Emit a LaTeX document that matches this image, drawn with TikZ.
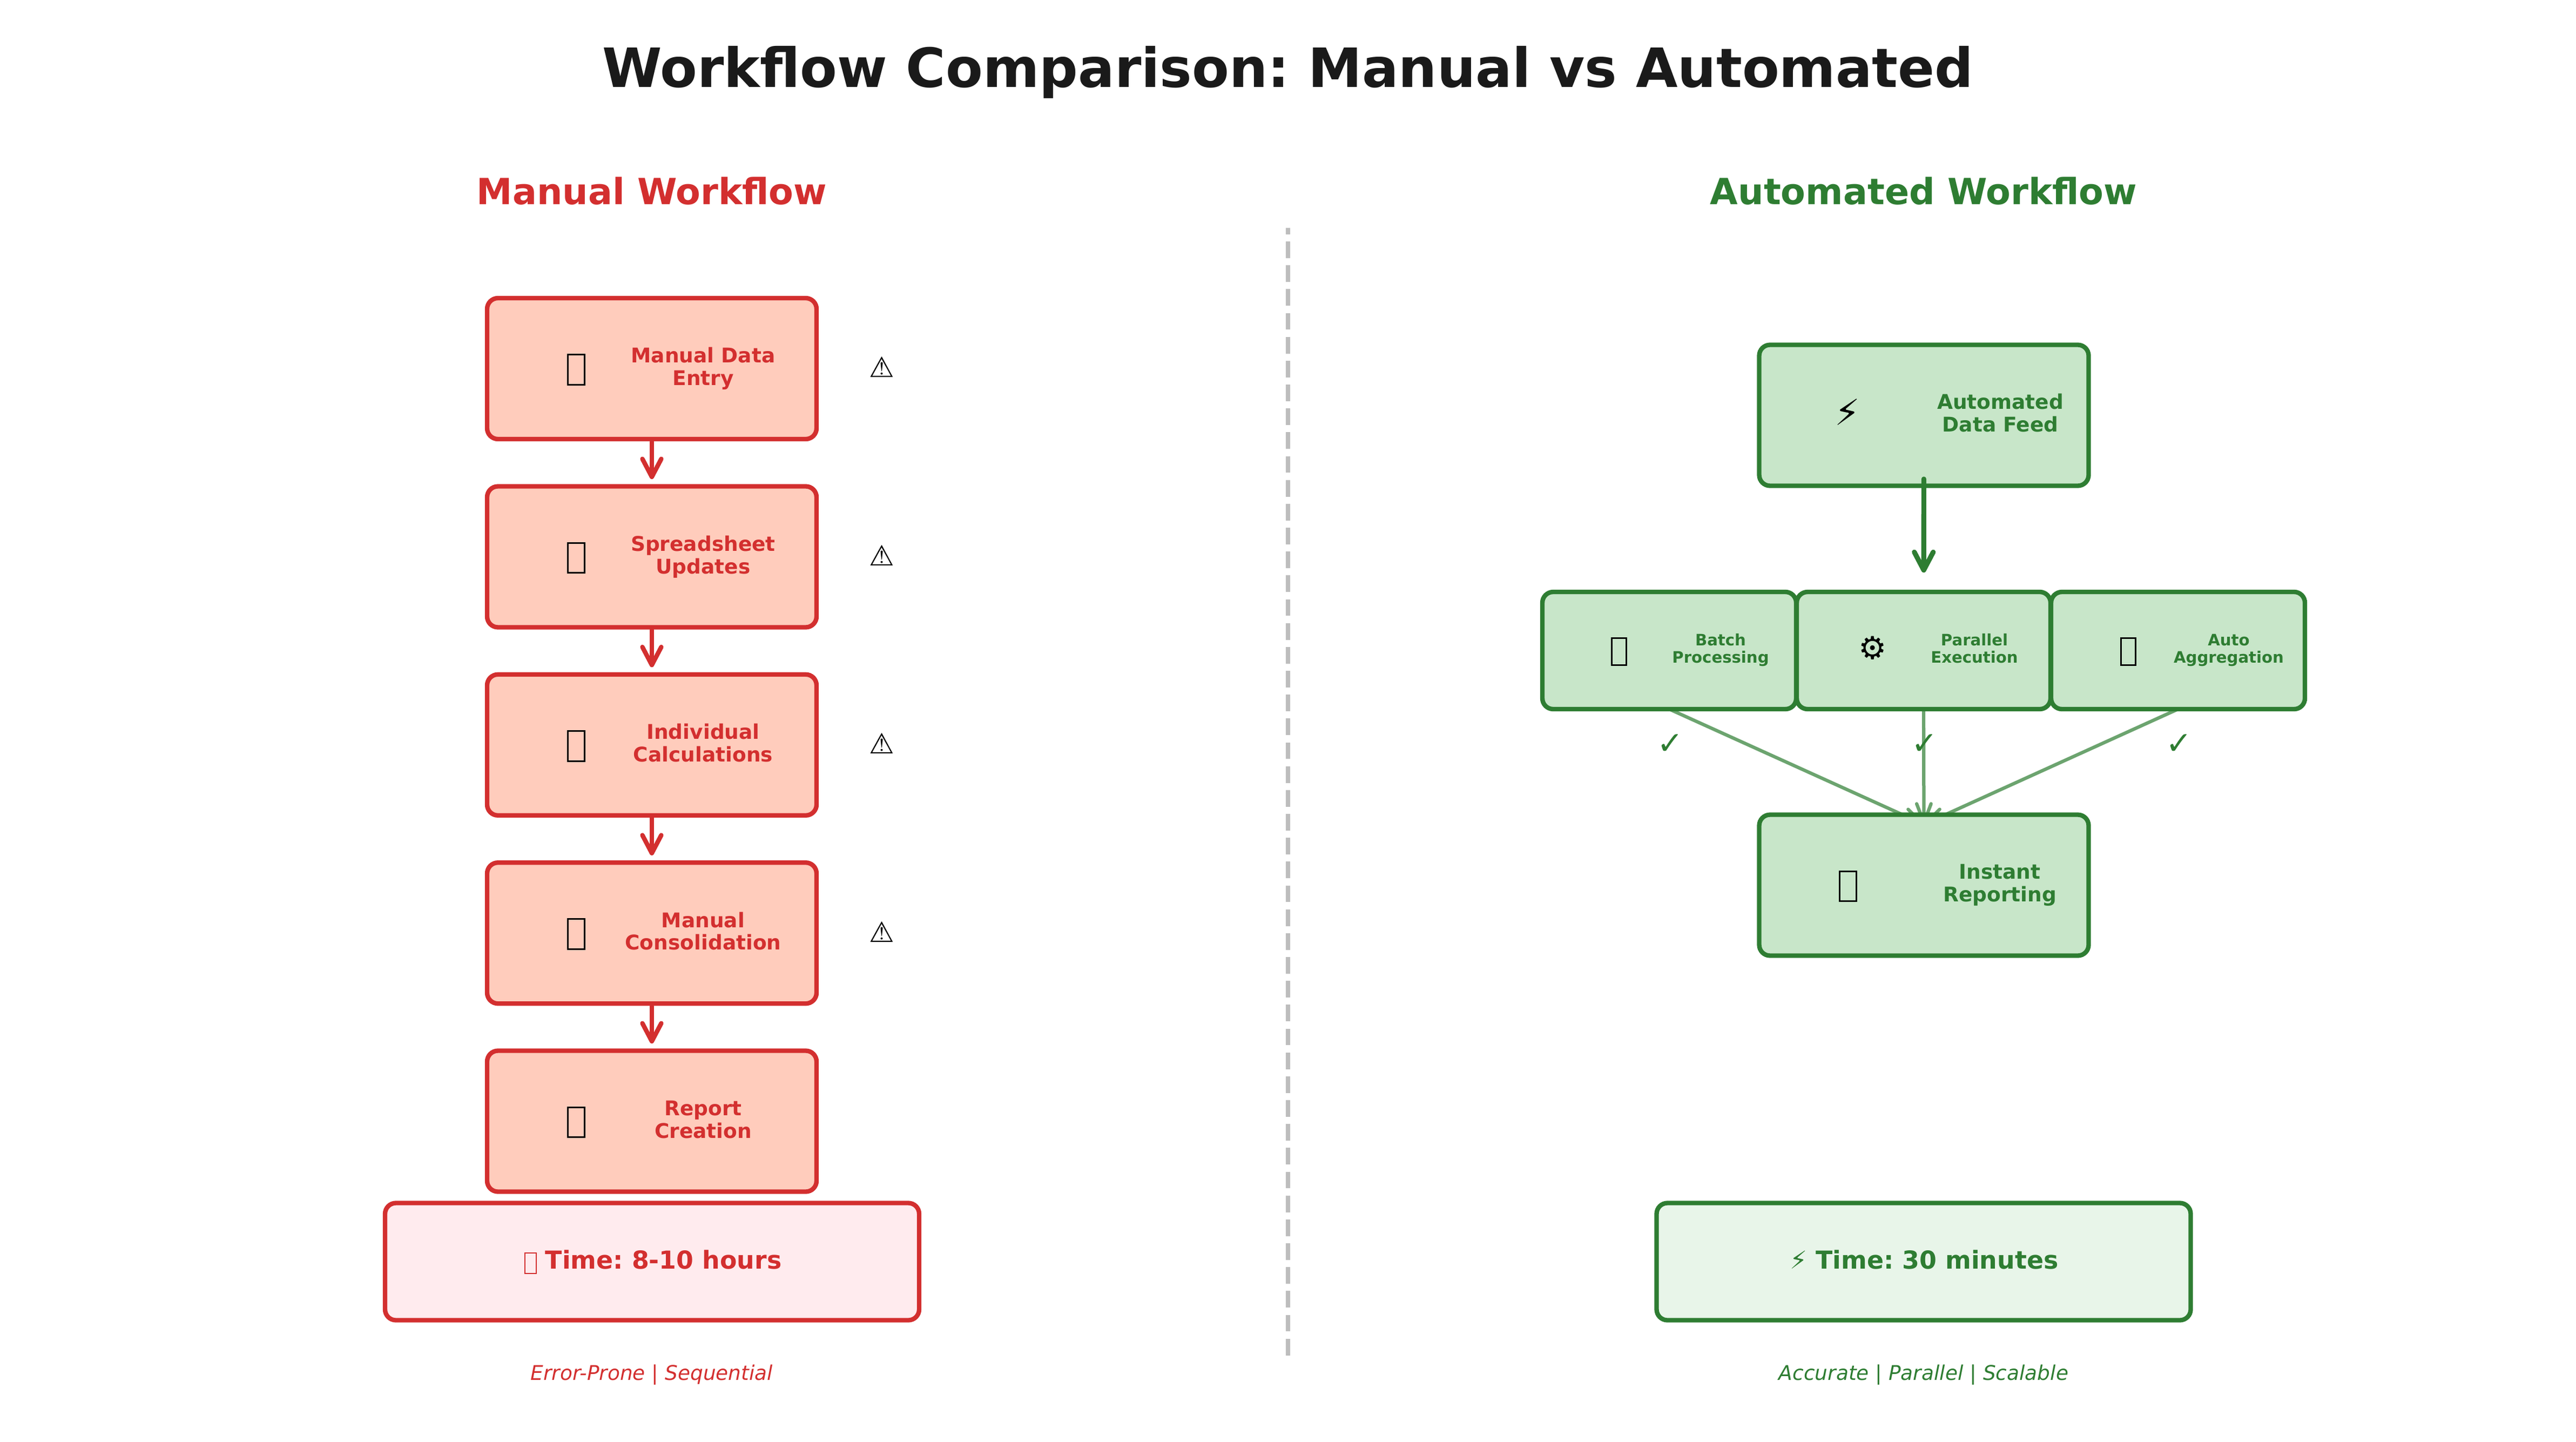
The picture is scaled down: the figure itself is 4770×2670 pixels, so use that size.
\documentclass[tikz,border=0pt]{standalone}
\usepackage{fontspec}
\setmainfont{DejaVu Sans}
\frenchspacing
\usetikzlibrary{arrows.meta,backgrounds}
\definecolor{redc}{HTML}{D32F2F}
\definecolor{redf}{HTML}{FFCCBC}
\definecolor{redl}{HTML}{FFEBEE}
\definecolor{grc}{HTML}{2E7D32}
\definecolor{grf}{HTML}{C8E6C9}
\definecolor{grl}{HTML}{E8F5E9}
\definecolor{ink}{HTML}{1A1A1A}
\definecolor{dashc}{HTML}{BDBDBD}
\newcommand{\inlinetofu}{\raisebox{-1.9pt}{\fboxsep=0pt\fboxrule=0.6pt\fbox{\rule{0pt}{8.6pt}\hspace{4.4pt}}}}
\newcommand{\twolines}[2]{\vphantom{dy}#1\\#2\vphantom{dy}}
\tikzset{
  x=0.24pt,y=-0.24pt,
  box/.style={draw,rounded corners=4.8pt,line width=2pt,inner sep=0pt,outer sep=0pt},
  redbox/.style={box,draw=redc,fill=redf,minimum width=146.4pt,minimum height=62.64pt},
  grbox/.style={box,draw=grc,fill=grf,minimum width=146.4pt,minimum height=62.64pt},
  grsmall/.style={box,draw=grc,fill=grf,minimum width=112.8pt,minimum height=52.08pt},
  redtime/.style={box,draw=redc,fill=redl,minimum width=237.36pt,minimum height=52.08pt},
  grtime/.style={box,draw=grc,fill=grl,minimum width=237.36pt,minimum height=52.08pt},
  lab/.style={align=center,inner sep=0pt,font=\fontsize{9}{10}\selectfont\bfseries},
  labs/.style={align=center,inner sep=0pt,font=\fontsize{7}{7.8}\selectfont\bfseries,text=grc},
  tofu/.style={draw=black,line width=0.72pt,inner sep=0pt,minimum width=7.4pt,minimum height=13.4pt},
  tofus/.style={draw=black,line width=0.72pt,inner sep=0pt,minimum width=6.6pt,minimum height=12pt},
  iconbig/.style={inner sep=0pt,text=black,font=\fontsize{16}{16}\selectfont},
  icon/.style={inner sep=0pt,text=black,font=\fontsize{14}{14}\selectfont},
  warn/.style={inner sep=0pt,text=black,font=\fontsize{12.5}{13}\selectfont},
  chk/.style={inner sep=0pt,text=grc,font=\fontsize{14}{14}\selectfont},
  timetxt/.style={inner sep=0pt,anchor=base,font=\fontsize{11}{11}\selectfont\bfseries},
  foot/.style={inner sep=0pt,anchor=base,font=\fontsize{9}{9}\selectfont\itshape},
  redarr/.style={draw=redc,line width=2pt,line cap=round,-{Straight Barb[length=8pt,width=8.4pt,round]},shorten <=1.2pt,shorten >=3.2pt},
  grarr/.style={draw=grc,line width=2.2pt,line cap=round,-{Straight Barb[length=8pt,width=8.4pt,round]}},
  fan/.style={draw=grc,draw opacity=0.7,line width=1.5pt,-{Straight Barb[length=8.4pt,width=6.4pt,round]}},
}
\begin{document}
\begin{tikzpicture}
\useasboundingbox (0,0) rectangle (4770,2670);
\node[inner sep=0pt,text=ink,font=\fontsize{24.05}{24}\selectfont\bfseries] (title) at (2385,134) {Workflow Comparison: Manual vs Automated};
\node[inner sep=0pt,text=redc,font=\fontsize{16}{16}\selectfont\bfseries] (hl) at (1207,354) {Manual Workflow};
\node[inner sep=0pt,text=grc,font=\fontsize{16}{16}\selectfont\bfseries] (hr) at (3562,354) {Automated Workflow};
\coordinate (dtop) at (2385,422);
\coordinate (dbot) at (2385,2510);
\draw[dashc,line width=2pt,dash pattern=on 7.4pt off 3.2pt,dash phase=4.56pt] (dtop) -- (dbot);
% manual column
\node[redbox] (m1) at (1207,682.5) {};
\node[redbox] (m2) at (1207,1031) {};
\node[redbox] (m3) at (1207,1379.3) {};
\node[redbox] (m4) at (1207,1727.7) {};
\node[redbox] (m5) at (1207,2076) {};
\node[lab,text=redc] (ml1) at (1302,682.5) {\twolines{Manual Data}{Entry}};
\node[lab,text=redc] (ml2) at (1302,1031) {\twolines{Spreadsheet}{Updates}};
\node[lab,text=redc] (ml3) at (1302,1379.3) {\twolines{Individual}{Calculations}};
\node[lab,text=redc] (ml4) at (1302,1727.7) {\twolines{Manual}{Consolidation}};
\node[lab,text=redc] (ml5) at (1302,2076) {\twolines{Report}{Creation}};
\node[tofu] (mi1) at (1067,684.5) {};
\node[tofu] (mi2) at (1067,1033) {};
\node[tofu] (mi3) at (1067,1381.3) {};
\node[tofu] (mi4) at (1067,1729.7) {};
\node[tofu] (mi5) at (1067,2078) {};
\node[warn] (w1) at (1633,680) {⚠};
\node[warn] (w2) at (1633,1028.4) {⚠};
\node[warn] (w3) at (1633,1376.8) {⚠};
\node[warn] (w4) at (1633,1725.2) {⚠};
\draw[redarr] (m1) -- (m2);
\draw[redarr] (m2) -- (m3);
\draw[redarr] (m3) -- (m4);
\draw[redarr] (m4) -- (m5);
\node[redtime] (tl) at (1207.5,2336) {};
\node[timetxt,text=redc] (tlt) at (1209,2349) {\inlinetofu{} Time: 8-10 hours};
\node[foot,text=redc] (fl) at (1207,2555) {Error-Prone | Sequential};
% automated column
\node[grbox] (a1) at (3562.5,769) {};
\node[grsmall] (b1) at (3091,1204.5) {};
\node[grsmall] (b2) at (3562,1204.5) {};
\node[grsmall] (b3) at (4033,1204.5) {};
\node[grbox] (rp) at (3562.5,1639) {};
\coordinate (fanend) at ([yshift=-4.3pt]rp.north);
\begin{scope}[on background layer]
\draw[fan] (b1.south) -- (fanend);
\draw[fan] (b2.south) -- (fanend);
\draw[fan] (b3.south) -- (fanend);
\end{scope}
\draw[grarr,shorten <=-3pt,shorten >=8.6pt] (a1) -- (b2);
\node[lab,text=grc] (al1) at (3704,768) {\twolines{Automated}{Data Feed}};
\node[lab,text=grc] (al5) at (3703,1638.5) {\twolines{Instant}{Reporting}};
\node[labs] (bl1) at (3186,1203.5) {\twolines{Batch}{Processing}};
\node[labs] (bl2) at (3656,1203.5) {\twolines{Parallel}{Execution}};
\node[labs] (bl3) at (4127,1203.5) {\twolines{Auto}{Aggregation}};
\node[iconbig] (ai1) at (3421,763) {⚡};
\node[tofu] (ai5) at (3422,1641) {};
\node[tofus] (bi1) at (2998,1206) {};
\node[icon] (bi2) at (3468,1200) {⚙};
\node[tofus] (bi3) at (3941,1206) {};
\node[chk] (c1) at (3093,1378) {✓};
\node[chk] (c2) at (3564,1378) {✓};
\node[chk] (c3) at (4035,1378) {✓};
\node[grtime] (tr) at (3562,2336) {};
\node[timetxt,text=grc] (trt) at (3563,2349) {⚡ Time: 30 minutes};
\node[foot,text=grc] (fr) at (3562,2555) {Accurate | Parallel | Scalable};
\end{tikzpicture}
\end{document}
